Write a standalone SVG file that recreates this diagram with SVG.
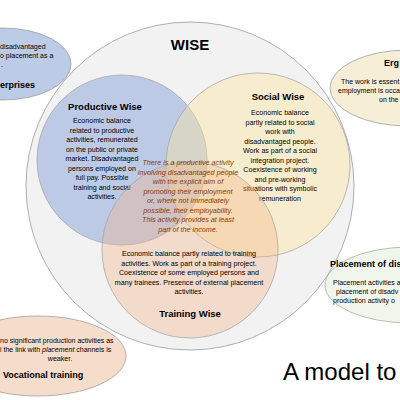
<svg xmlns="http://www.w3.org/2000/svg" width="400" height="400" viewBox="0 0 400 400">
<style>
text{font-family:"Liberation Sans",Arial,sans-serif;fill:#000}
.t{font-weight:bold;text-anchor:middle}
.b{font-size:7.1px;text-anchor:middle}
.bs{font-size:7px}
.i{font-size:7.2px;font-style:italic;text-anchor:middle;fill:#843c0c}
.ring{stroke:#a6a6a6;stroke-width:0.9}
.sub{stroke:#a8a8a8;stroke-width:0.8}
</style>
<rect width="400" height="400" fill="#ffffff"/>
<g id="wise">
<circle class="ring" cx="190" cy="186" r="164" fill="#f2f2f2"/>
<text class="t" x="190" y="50" font-size="15">WISE</text>
</g>
<g id="productive-wise">
<circle class="sub" cx="122" cy="160" r="85" fill="#8faadc" fill-opacity="0.55"/>
<text class="t" x="105" y="110" font-size="9.5">Productive Wise</text>
<text class="b" x="102" y="123">Economic balance</text>
<text class="b" x="102" y="132.5">related to productive</text>
<text class="b" x="102" y="142">activities, remunerated</text>
<text class="b" x="102" y="151.5">on the public or private</text>
<text class="b" x="102" y="161">market. Disadvantaged</text>
<text class="b" x="102" y="170.5">persons employed on</text>
<text class="b" x="102" y="180">full pay. Possible</text>
<text class="b" x="102" y="189.5">training and social</text>
<text class="b" x="102" y="199">activities.</text>
</g>
<g id="social-wise">
<circle class="sub" cx="258" cy="165" r="92" fill="#ffe699" fill-opacity="0.4"/>
<text class="t" x="278" y="100" font-size="9.5">Social Wise</text>
<text class="b" x="280" y="115">Economic balance</text>
<text class="b" x="280" y="124.5">partly related to social</text>
<text class="b" x="280" y="134">work with</text>
<text class="b" x="280" y="143.5">disadvantaged people.</text>
<text class="b" x="280" y="153">Work as part of a social</text>
<text class="b" x="280" y="162.5">integration project.</text>
<text class="b" x="280" y="172">Coexistence of working</text>
<text class="b" x="280" y="181.5">and pre-working</text>
<text class="b" x="280" y="191">situations with symbolic</text>
<text class="b" x="280" y="200.5">remuneration</text>
</g>
<g id="training-wise">
<circle class="sub" cx="190" cy="250" r="88" fill="#f4b183" fill-opacity="0.35"/>
<text class="b" x="189" y="256">Economic balance partly related to training</text>
<text class="b" x="189" y="265.5">activities. Work as part of a training project.</text>
<text class="b" x="189" y="275">Coexistence of some employed persons and</text>
<text class="b" x="189" y="284.5">many trainees. Presence of external placement</text>
<text class="b" x="189" y="294">activities.</text>
<text class="t" x="190" y="317" font-size="9.5">Training Wise</text>
</g>
<g id="core">
<text class="i" x="188" y="165">There is a productive activity</text>
<text class="i" x="188" y="174.5">involving disadvantaged people</text>
<text class="i" x="188" y="184">with the explicit aim of</text>
<text class="i" x="188" y="193.5">promoting their employment</text>
<text class="i" x="188" y="203">or, where not immediately</text>
<text class="i" x="188" y="212.5">possible, their employability.</text>
<text class="i" x="188" y="222">This activity provides at least</text>
<text class="i" x="188" y="231.5">part of the income.</text>
</g>
<g id="enterprises">
<ellipse cx="3" cy="64" rx="68" ry="36" fill="#bccbe6" stroke="#a0a0a0" stroke-width="0.8"/>
<text class="bs" x="0" y="49">disadvantaged</text>
<text class="bs" x="0" y="58">o placement as a</text>
<text class="bs" x="1" y="67">.</text>
<text x="0" y="88" font-size="9" font-weight="bold">erprises</text>
</g>
<g id="erg">
<ellipse cx="408" cy="88" rx="78" ry="38" fill="#f7eed8" stroke="#a0a0a0" stroke-width="0.8"/>
<text x="384" y="66" font-size="9" font-weight="bold">Erg</text>
<text class="bs" x="341" y="84">The work is essent</text>
<text class="bs" x="338" y="93">employment is occa</text>
<text class="bs" x="379" y="102">on the</text>
</g>
<g id="placement">
<ellipse cx="410" cy="285" rx="85" ry="38" fill="#f1f6ed" stroke="#a3b394" stroke-width="0.8"/>
<text x="330" y="267" font-size="9" font-weight="bold">Placement of dis</text>
<text class="bs" x="333" y="285">Placement activities a</text>
<text class="bs" x="336" y="294">placement of disadv</text>
<text class="bs" x="333" y="303">production activity o</text>
</g>
<g id="vocational">
<ellipse cx="38" cy="356" rx="88" ry="40" fill="#f6dccb" stroke="#a0a0a0" stroke-width="0.8"/>
<text class="bs" x="0" y="343">no significant production activities as</text>
<text class="bs" x="0" y="352">l the link with <tspan font-style="italic">placement</tspan> channels is</text>
<text class="b" x="60" y="361">weaker.</text>
<text x="3" y="378" font-size="9" font-weight="bold">Vocational training</text>
</g>
<g id="caption">
<text x="283" y="380" font-size="24">A model to</text>
</g>
</svg>
